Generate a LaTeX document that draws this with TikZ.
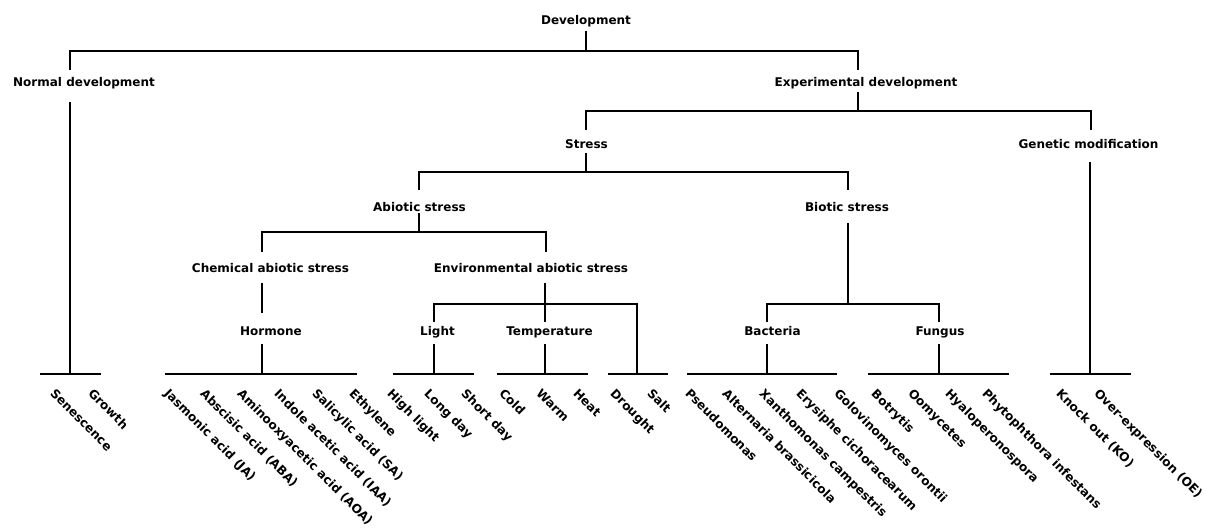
\documentclass[tikz,border=0pt]{standalone}
\usepackage{fontspec}
\setmainfont{DejaVu Sans}
\begin{document}
\begin{tikzpicture}[x=1pt,y=-1pt,
  lbl/.style={font=\fontsize{12}{14}\selectfont\bfseries, inner sep=0, anchor=base},
  leaf/.style={font=\fontsize{12.2}{14}\selectfont\bfseries, inner sep=0, rotate=-45, anchor=north west, text height=9pt, text depth=2.5pt},
  ln/.style={line width=1.5pt, black}]
\useasboundingbox (0,0) rectangle (1206,528);

% ---------- labelled nodes ----------
\node[lbl] (dev) at (586,24.5) {Development};
\node[lbl] (normal) at (84,86.5) {Normal development};
\node[lbl] (exp) at (866,86.5) {Experimental development};
\node[lbl] (stress) at (586.5,148.5) {Stress};
\node[lbl] (gen) at (1088.5,148.5) {Genetic modification};
\node[lbl] (abio) at (419.5,211.5) {Abiotic stress};
\node[lbl] (bio) at (847,211.5) {Biotic stress};
\node[lbl] (chem) at (270.5,272.5) {Chemical abiotic stress};
\node[lbl] (env) at (531,272.5) {Environmental abiotic stress};
\node[lbl] (horm) at (271,335.5) {Hormone};
\node[lbl] (light) at (437.5,335.5) {Light};
\node[lbl] (temp) at (549.5,335.5) {Temperature};
\node[lbl] (bact) at (772.5,335.5) {Bacteria};
\node[lbl] (fung) at (940,335.5) {Fungus};

% ---------- junction coordinates ----------
\coordinate (devS) at (586,31);
\coordinate (b1L) at (70,51);
\coordinate (b1M) at (586,51);
\coordinate (b1R) at (858,51);
\coordinate (normN) at (70,70);
\coordinate (expN) at (858,70);

\coordinate (normS) at (70,102);
\coordinate (normB) at (70,374);
\coordinate (normBL) at (40,374);
\coordinate (normBR) at (101,374);

\coordinate (expS) at (858,92);
\coordinate (b3M) at (858,111);
\coordinate (b3L) at (586,111);
\coordinate (b3R) at (1091,111);
\coordinate (stressN) at (586,130);
\coordinate (genN) at (1091,130);

\coordinate (stressS) at (586,153);
\coordinate (b4M) at (586,172);
\coordinate (b4L) at (419,172);
\coordinate (b4R) at (848,172);
\coordinate (abioN) at (419,190);
\coordinate (bioN) at (848,190);

\coordinate (genS) at (1090,162);
\coordinate (genB) at (1090,374);
\coordinate (genBL) at (1050,374);
\coordinate (genBR) at (1131,374);

\coordinate (abioS) at (419,213);
\coordinate (b5M) at (419,232);
\coordinate (b5L) at (262,232);
\coordinate (b5R) at (546,232);
\coordinate (chemN) at (262,252);
\coordinate (envN) at (546,252);

\coordinate (bioS) at (848,223);
\coordinate (b6M) at (848,304);
\coordinate (b6L) at (767,304);
\coordinate (b6R) at (939,304);
\coordinate (bactN) at (767,322);
\coordinate (fungN) at (939,322);

\coordinate (chemS) at (262,283);
\coordinate (hormN) at (262,313);
\coordinate (hormS) at (262,344);
\coordinate (hormB) at (262,374);
\coordinate (hormBL) at (165,374);
\coordinate (hormBR) at (357,374);

\coordinate (envS) at (545,283);
\coordinate (tempN) at (545,322);
\coordinate (b7L) at (434,304);
\coordinate (b7R) at (637,304);
\coordinate (lightN) at (434,322);
\coordinate (dsB) at (637,374);
\coordinate (dsBL) at (608,374);
\coordinate (dsBR) at (668,374);

\coordinate (lightS) at (434,344);
\coordinate (lightB) at (434,374);
\coordinate (lightBL) at (393,374);
\coordinate (lightBR) at (474,374);

\coordinate (tempS) at (545,344);
\coordinate (tempB) at (545,374);
\coordinate (tempBL) at (497,374);
\coordinate (tempBR) at (588,374);

\coordinate (bactS) at (767,344);
\coordinate (bactB) at (767,374);
\coordinate (bactBL) at (687,374);
\coordinate (bactBR) at (837,374);

\coordinate (fungS) at (939,344);
\coordinate (fungB) at (939,374);
\coordinate (fungBL) at (868,374);
\coordinate (fungBR) at (1009,374);

% ---------- connectors ----------
\draw[ln] (devS) -- (b1M);
\draw[ln] (normN) -- (b1L) -- (b1R) -- (expN);
\draw[ln] (normS) -- (normB);
\draw[ln] (normBL) -- (normBR);
\draw[ln] (expS) -- (b3M);
\draw[ln] (stressN) -- (b3L) -- (b3R) -- (genN);
\draw[ln] (stressS) -- (b4M);
\draw[ln] (abioN) -- (b4L) -- (b4R) -- (bioN);
\draw[ln] (genS) -- (genB);
\draw[ln] (genBL) -- (genBR);
\draw[ln] (abioS) -- (b5M);
\draw[ln] (chemN) -- (b5L) -- (b5R) -- (envN);
\draw[ln] (bioS) -- (b6M);
\draw[ln] (bactN) -- (b6L) -- (b6R) -- (fungN);
\draw[ln] (chemS) -- (hormN);
\draw[ln] (hormS) -- (hormB);
\draw[ln] (hormBL) -- (hormBR);
\draw[ln] (envS) -- (tempN);
\draw[ln] (lightN) -- (b7L) -- (b7R) -- (dsB);
\draw[ln] (dsBL) -- (dsBR);
\draw[ln] (lightS) -- (lightB);
\draw[ln] (lightBL) -- (lightBR);
\draw[ln] (tempS) -- (tempB);
\draw[ln] (tempBL) -- (tempBR);
\draw[ln] (bactS) -- (bactB);
\draw[ln] (bactBL) -- (bactBR);
\draw[ln] (fungS) -- (fungB);
\draw[ln] (fungBL) -- (fungBR);

% ---------- leaves ----------
\node[leaf] (sen) at (56,388) {Senescence};
\node[leaf] (gro) at (94,388) {Growth};
\node[leaf] (ja) at (170,388) {Jasmonic acid (JA)};
\node[leaf] (aba) at (206,388) {Abscisic acid (ABA)};
\node[leaf] (aoa) at (243,388) {Aminooxyacetic acid (AOA)};
\node[leaf] (iaa) at (280,388) {Indole acetic acid (IAA)};
\node[leaf] (sa) at (318,388) {Salicylic acid (SA)};
\node[leaf] (eth) at (355,388) {Ethylene};
\node[leaf] (hl) at (393,388) {High light};
\node[leaf] (ld) at (430,388) {Long day};
\node[leaf] (sd) at (467,388) {Short day};
\node[leaf] (cold) at (505,388) {Cold};
\node[leaf] (warm) at (542,388) {Warm};
\node[leaf] (heat) at (579,388) {Heat};
\node[leaf] (dro) at (616,388) {Drought};
\node[leaf] (salt) at (653,388) {Salt};
\node[leaf] (pse) at (691,388) {Pseudomonas};
\node[leaf] (alt) at (728,388) {Alternaria brassicicola};
\node[leaf] (xan) at (765,388) {Xanthomonas campestris};
\node[leaf] (ery) at (802,388) {Erysiphe cichoracearum};
\node[leaf] (gol) at (840,388) {Golovinomyces orontii};
\node[leaf] (bot) at (877,388) {Botrytis};
\node[leaf] (oom) at (914,388) {Oomycetes};
\node[leaf] (hya) at (951,388) {Hyaloperonospora};
\node[leaf] (phy) at (988,388) {Phytophthora infestans};
\node[leaf] (ko) at (1062,388) {Knock out (KO)};
\node[leaf] (oe) at (1100,388) {Over-expression (OE)};
\end{tikzpicture}
\end{document}
